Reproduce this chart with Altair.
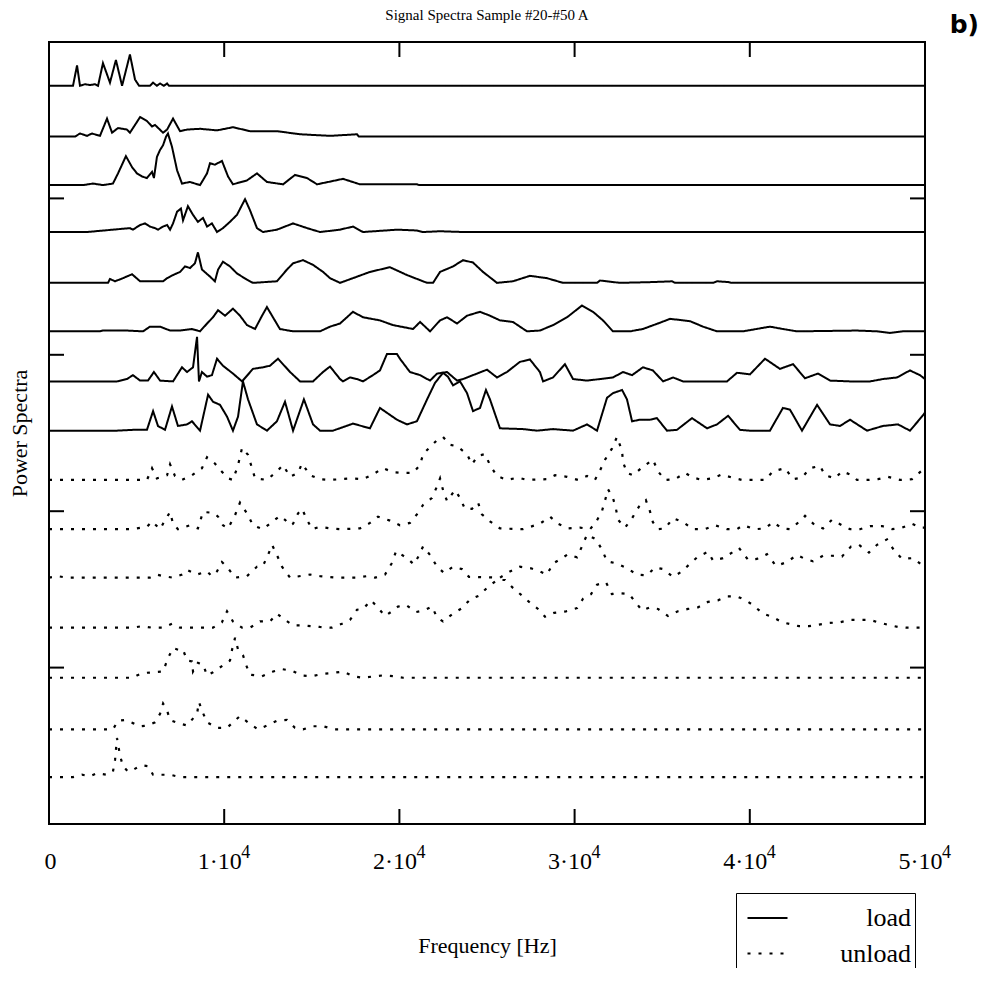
import altair as alt
import pandas as pd

TITLE = "Signal Spectra Sample #20-#50 A"
PANEL = "b)"
X_TITLE = "Frequency [Hz]"
Y_TITLE = "Power Spectra"
SERIES = ["load", "unload"]
X_TICKS = [0, 10000, 20000, 30000, 40000, 50000]
X_EXPONENT = "4"
Y_TICKS = [20, 40, 60, 80]

# (frequency in kHz, power in arbitrary units) for each recorded spectrum
load_1 = [(0, 0), (1.37, 0), (1.60, 2.6), (1.77, 0), (2.05, 0.2), (2.34, 0.1), (2.63, 0.2), (2.80, 0),
          (3.08, 2.9), (3.48, 0.4), (3.82, 3.3), (4.17, 0), (4.62, 4.0), (4.91, 0.8), (5.14, 0), (5.76, 0),
          (5.94, 0.4), (6.16, 0), (6.34, 0.3), (6.56, 0), (6.74, 0.3), (6.85, 0), (50, 0)]
load_2 = [(0, 0), (1.48, 0), (1.77, 0.4), (2.17, 0.1), (2.45, 0.4), (2.91, 0.1), (3.31, 2.3), (3.60, 0.5),
          (3.94, 1.1), (4.45, 0.9), (4.62, 0.5), (5.20, 2.5), (5.59, 2.0), (5.88, 1.3), (6.05, 1.5), (6.51, 0.5),
          (6.74, 0.9), (7.08, 2.3), (7.48, 0.7), (7.88, 0.9), (8.62, 1.0), (9.59, 0.8), (10.50, 1.2), (11.47, 0.7),
          (13.01, 0.7), (14.33, 0.3), (16.04, 0.1), (17.58, 0.3), (17.69, 0), (50, 0)]
load_3 = [(0, 0), (1.94, 0), (2.51, 0.2), (3.08, 0), (3.65, 0.2), (3.94, 1.5), (4.39, 3.7), (4.74, 2.3),
          (5.02, 1.5), (5.31, 1.1), (5.59, 0.9), (5.88, 1.7), (5.99, 0.9), (6.16, 3.6), (6.34, 4.5), (6.51, 5.1),
          (6.68, 6.2), (6.79, 6.6), (7.02, 4.9), (7.31, 1.9), (7.59, 0.2), (8.05, 0.4), (8.62, 0), (9.02, 1.5),
          (9.19, 2.8), (9.47, 2.6), (9.87, 3.1), (10.22, 1.1), (10.50, 0.1), (11.30, 0.6), (11.87, 1.5),
          (12.44, 0.4), (13.36, 0.1), (14.04, 1.3), (14.73, 0.9), (15.30, 0.1), (16.78, 0.8), (17.75, 0.1),
          (21.0, 0.1), (21.12, 0), (50, 0)]
load_4 = [(0, 0), (2.17, 0), (4.62, 0.5), (4.79, 0.3), (5.20, 0.9), (5.48, 1.1), (5.76, 0.7), (6.05, 0.5),
          (6.22, 0.3), (6.51, 0.7), (6.74, 0.9), (6.91, 0.3), (7.08, 1.1), (7.31, 2.6), (7.53, 3.0), (7.65, 1.5),
          (7.93, 3.3), (8.22, 2.2), (8.50, 1.3), (8.79, 1.8), (9.02, 0.7), (9.30, 1.1), (9.59, 0), (9.93, 0.5),
          (10.33, 1.3), (10.73, 2.2), (11.19, 4.2), (11.47, 2.8), (11.87, 0.5), (12.21, 0), (13.01, 0.3),
          (13.93, 1.1), (14.73, 0.5), (15.47, 0), (16.61, 0.3), (17.35, 0.7), (17.92, 0), (19.86, 0.3),
          (21.0, 0.2), (21.35, 0), (22.32, 0.1), (23.63, 0), (50, 0)]
load_5 = [(0, 0), (3.37, 0), (3.48, 0.5), (3.77, 0.2), (4.22, 0.6), (4.74, 1.1), (5.20, 0.2), (6.51, 0.2),
          (6.74, 0.6), (7.08, 1.0), (7.48, 1.4), (7.76, 2.1), (8.05, 1.9), (8.33, 2.5), (8.50, 3.9), (8.73, 1.7),
          (9.19, 0.8), (9.47, 0.2), (9.65, 1.7), (9.93, 2.7), (10.33, 2.1), (10.73, 1.2), (11.30, 0.4),
          (11.64, 0), (13.01, 0.2), (13.58, 1.7), (13.93, 2.5), (14.50, 2.9), (15.07, 2.3), (15.64, 1.4),
          (16.04, 0.6), (16.61, 0), (17.35, 0.6), (18.32, 1.4), (19.46, 2.0), (20.43, 1.0), (21.58, 0),
          (21.92, 0), (22.32, 1.4), (23.06, 2.1), (23.63, 2.9), (24.20, 2.6), (24.77, 1.4), (25.57, 0),
          (26.48, 0.2), (27.45, 0.9), (28.42, 0.6), (29.34, 0), (31.28, 0), (31.45, 0.3), (32.59, 0),
          (34.47, 0.1), (35.56, 0.2), (35.73, 0), (37.90, 0), (38.13, 0.2), (38.76, 0.1), (38.98, 0), (50, 0)]
load_6 = [(0, 0), (2.91, 0), (3.08, 0.1), (4.45, 0.1), (5.37, 0), (5.76, 0.6), (6.34, 0.6), (6.91, 0.1),
          (7.48, 0.1), (8.16, 0.3), (8.62, 0), (9.02, 1.0), (9.36, 1.8), (9.65, 2.7), (10.05, 2.0), (10.50, 2.9),
          (10.90, 2.0), (11.30, 0.8), (11.76, 0.3), (12.16, 2.0), (12.44, 3.1), (12.73, 2.0), (13.18, 0.3),
          (13.93, 0), (15.47, 0), (16.04, 0.6), (16.61, 1.0), (17.35, 2.5), (17.92, 1.8), (18.89, 1.4),
          (19.63, 0.8), (20.78, 0.3), (21.18, 1.2), (21.75, 0), (22.32, 1.4), (22.72, 1.8), (23.29, 1.0),
          (23.86, 2.0), (24.60, 2.5), (25.17, 2.0), (25.74, 1.4), (26.48, 1.2), (27.28, 0), (28.02, 0.1),
          (28.77, 0.8), (29.57, 1.8), (30.42, 3.3), (31.05, 2.5), (31.62, 1.4), (32.19, 0), (33.16, 0),
          (33.90, 0.3), (34.87, 1.1), (35.45, 1.6), (36.59, 1.3), (37.33, 0.6), (38.13, 0), (39.61, 0),
          (41.15, 0.6), (41.89, 0.3), (42.69, 0), (46.12, 0.1), (47.26, 0), (48.0, -0.2), (48.74, 0), (50, 0)]
load_7 = [(0, 0), (3.88, 0), (4.45, 0.3), (4.79, 0.8), (5.20, 0.1), (5.65, 0.1), (5.99, 1.2), (6.34, 0.1),
          (7.08, 0), (7.59, 1.8), (7.88, 1.2), (8.22, 1.8), (8.45, 5.7), (8.56, 0), (8.73, 1.2), (9.02, 0.6),
          (9.30, 0.8), (9.59, 2.9), (9.93, 2.0), (10.50, 1.0), (11.02, 0), (11.64, 1.6), (12.21, 1.8),
          (12.61, 2.0), (13.07, 2.9), (13.76, 1.2), (14.33, 0), (15.07, 0), (15.64, 1.2), (16.04, 1.9),
          (16.61, 0.3), (16.78, 0), (17.18, 0.5), (17.58, 0.3), (17.92, 0), (18.49, 0.8), (18.89, 1.4),
          (19.29, 3.5), (19.86, 3.5), (20.03, 2.9), (20.60, 1.2), (21.18, 0.8), (21.75, 0.1), (22.15, 1.0),
          (22.72, 1.2), (23.29, 0.1), (23.63, 0.3), (24.43, 1.0), (25.0, 1.5), (25.57, 0.5), (26.14, 1.2),
          (26.88, 2.5), (27.45, 2.8), (28.02, 1.2), (28.20, 0), (28.77, 0.5), (29.45, 2.2), (29.91, 0.3),
          (30.71, 0.1), (31.45, 0.3), (32.19, 0.5), (32.76, 1.2), (33.28, 0.8), (33.90, 1.8), (34.47, 1.4),
          (35.05, 0), (35.62, 0.5), (36.19, 0), (37.56, 0), (38.70, 0), (39.27, 1.1), (40.01, 0.9),
          (40.87, 2.9), (41.72, 1.6), (42.47, 2.2), (43.15, 0.4), (43.89, 1.0), (44.58, 0.1), (45.72, 0),
          (46.86, 0), (47.60, 0.3), (48.40, 0.5), (49.14, 1.4), (49.71, 0.8), (50, 0.3)]
load_8 = [(0, 0), (3.88, 0), (4.79, 0.1), (5.59, 0.1), (5.94, 2.5), (6.22, 0.6), (6.62, 0.1), (7.02, 3.1),
          (7.36, 0.6), (7.88, 0.8), (8.16, 1.2), (8.62, 0), (9.08, 4.6), (9.36, 3.7), (9.76, 3.3), (10.16, 1.8),
          (10.50, 0), (10.79, 1.8), (11.07, 6.3), (11.36, 4.0), (11.87, 0.8), (12.44, 0), (13.01, 1.2),
          (13.47, 3.7), (13.93, 0), (14.55, 4.0), (15.07, 0.8), (15.47, 0), (16.21, 0), (17.35, 0.9),
          (18.32, 0.3), (18.89, 2.9), (19.86, 1.4), (20.43, 0.8), (21.0, 1.2), (21.58, 4.0), (22.03, 6.1),
          (22.49, 7.4), (22.77, 6.9), (23.06, 5.8), (23.46, 6.3), (23.86, 4.8), (24.20, 2.5), (24.60, 2.9),
          (24.94, 5.2), (25.17, 4.0), (25.57, 1.4), (25.74, 0.3), (27.05, 0.2), (27.85, 0), (28.77, 0.2),
          (29.91, 0), (30.71, 0.8), (31.28, 0), (31.85, 4.2), (32.19, 4.8), (32.71, 5.2), (32.99, 4.0),
          (33.28, 1.2), (33.73, 1.4), (34.30, 1.4), (34.70, 1.6), (35.27, 0), (35.84, 0.1), (36.70, 1.6),
          (37.56, 0.3), (38.13, 0.8), (38.76, 1.9), (39.44, 0.1), (40.01, 0), (41.15, 0), (41.89, 2.9),
          (42.29, 2.7), (42.98, 0), (43.84, 3.3), (44.58, 0.8), (45.15, 0.6), (45.72, 1.4), (46.69, 0),
          (47.60, 0.6), (48.46, 0.8), (49.14, 0), (49.60, 1.2), (50, 2.3)]

unload_1 = [(0, 0), (5.59, 0), (5.88, 1.5), (6.16, 0.2), (6.74, 0.6), (6.91, 2.0), (7.19, 0.5), (7.59, 0),
            (8.16, 0.6), (8.73, 1.5), (9.02, 2.9), (9.47, 2.1), (9.76, 1.3), (10.22, 0.2), (10.50, 0),
            (10.79, 1.9), (11.02, 4.1), (11.36, 3.2), (11.76, 0.2), (12.44, 0), (13.01, 1.1), (13.36, 1.9),
            (13.76, 0.4), (14.21, 0.9), (14.44, 2.1), (14.90, 0.6), (15.47, 0.1), (16.04, 0), (17.29, 0.2),
            (17.92, 0.1), (18.49, 0.7), (19.06, 1.5), (19.63, 1.0), (20.21, 0.9), (20.78, 0.9), (21.18, 1.9),
            (21.35, 3.3), (22.15, 5.1), (22.49, 5.5), (22.89, 4.5), (23.29, 4.3), (23.86, 3.3), (24.14, 2.0),
            (24.49, 3.1), (24.89, 3.3), (25.17, 1.9), (25.57, 0.5), (26.14, 0), (26.77, 0.3), (27.28, 0),
            (28.42, 0.1), (28.88, 0.6), (29.57, 0.4), (30.19, 0), (30.71, 0.5), (31.16, 0), (31.45, 1.2),
            (31.74, 2.6), (32.13, 4.0), (32.42, 5.5), (32.71, 3.7), (32.76, 2.3), (32.99, 0.9), (33.33, 0.6),
            (33.85, 1.6), (34.47, 2.6), (34.76, 1.1), (35.16, 0), (35.73, 0.1), (36.30, 0.9), (36.76, 0.3),
            (37.27, 0), (37.84, 0.2), (38.41, 0.7), (38.98, 0.3), (39.55, 0), (40.87, 0), (41.32, 1.1),
            (42.01, 1.5), (42.47, 0.1), (42.98, 0.3), (43.44, 1.5), (44.01, 1.8), (44.29, 0.6), (44.86, 0.2),
            (45.26, 1.1), (45.72, 0.7), (46.12, 0), (46.75, 0), (47.32, 0.1), (47.89, 0.4), (48.57, 0),
            (49.26, 0.1), (49.77, 1.1), (50, 0.8)]
unload_2 = [(0, 0), (4.79, 0), (5.02, 0.1), (5.59, 0.3), (5.88, 1.0), (6.34, 0), (6.51, 0.7), (6.91, 2.2),
            (7.08, 0.7), (7.36, 0), (8.05, 0.5), (8.50, 0.1), (8.79, 2.2), (9.36, 2.1), (9.65, 1.6), (9.93, 0.5),
            (10.22, 0.1), (10.62, 1.8), (10.90, 3.4), (11.36, 1.8), (11.64, 0.5), (12.21, 0), (12.61, 0.7),
            (13.18, 1.7), (13.47, 1.2), (13.76, 0.5), (13.93, 0.7), (14.21, 2.0), (14.44, 2.6), (14.73, 1.2),
            (15.01, 0), (15.47, 0.3), (16.04, 0.1), (16.61, 0), (17.75, 0.1), (18.32, 0.8), (18.78, 1.6),
            (19.46, 1.1), (20.03, 0.5), (20.60, 0.8), (21.0, 1.9), (21.35, 3.1), (21.86, 4.0), (22.15, 5.5),
            (22.32, 6.5), (22.49, 5.0), (22.72, 3.6), (23.17, 5.0), (23.46, 4.0), (23.74, 2.6), (24.14, 2.6),
            (24.49, 3.4), (24.71, 1.9), (25.17, 1.0), (25.74, 0.1), (27.05, 0), (28.02, 0.7), (28.60, 1.6),
            (29.05, 0.7), (29.62, 0.1), (30.31, 0.2), (30.88, 0), (31.22, 0.9), (31.56, 2.3), (31.74, 3.7),
            (31.91, 5.1), (32.19, 4.0), (32.36, 2.6), (32.48, 1.2), (32.88, 0.2), (33.28, 1.4), (33.68, 2.9),
            (34.07, 3.7), (34.30, 2.3), (34.47, 0.9), (34.76, 0), (35.16, 0.1), (35.62, 1.4), (36.19, 0.9),
            (36.76, 0), (37.44, 0), (38.01, 0.5), (38.70, 0), (39.27, 0), (39.61, 0.5), (40.30, 0),
            (40.87, 0.1), (41.32, 0.9), (41.84, 0.1), (42.29, 0), (42.69, 0.7), (43.15, 1.7), (43.72, 0.5),
            (44.18, 0.1), (44.69, 1.2), (45.26, 0.5), (45.72, 0), (46.29, 0), (46.86, 0.4), (47.55, 0.4),
            (48.12, 0), (48.69, 0.2), (49.26, 0.7), (49.77, 0.2), (50, 0.2)]
unload_3 = [(0, 0), (0.46, 0.2), (1.03, 0), (5.20, 0), (5.76, 0), (6.16, 0.4), (6.51, 0.2), (7.08, 0),
            (7.59, 0.4), (7.88, 1.0), (8.45, 0.4), (9.02, 0.8), (9.30, 0.2), (9.59, 0.8), (9.87, 2.0),
            (10.22, 1.2), (10.62, 0), (11.30, 0.2), (11.87, 1.4), (12.21, 1.5), (12.50, 2.9), (12.73, 4.2),
            (13.01, 2.9), (13.30, 1.4), (13.76, 0), (14.90, 0.4), (15.47, 0.2), (16.44, 0), (17.58, 0),
            (18.15, 0.2), (18.61, 0), (19.18, 0.4), (19.58, 1.9), (19.81, 3.4), (20.43, 2.5), (20.83, 1.7),
            (21.06, 2.6), (21.35, 4.0), (21.75, 2.9), (22.15, 1.4), (22.55, 0.6), (23.06, 1.4), (23.57, 1.1),
            (23.97, 0.1), (25.74, 0), (26.31, 0.8), (26.88, 1.4), (27.51, 1.2), (28.02, 0.8), (28.42, 0.4),
            (28.77, 1.8), (29.28, 2.5), (29.62, 3.0), (30.14, 2.6), (30.42, 4.0), (30.71, 5.5), (31.22, 4.9),
            (31.56, 3.6), (31.85, 2.1), (32.42, 1.8), (32.99, 1.2), (33.56, 0.4), (34.13, 0.3), (34.59, 1.3),
            (35.05, 1.1), (35.62, 0.1), (36.13, 0.8), (36.59, 1.8), (37.04, 2.7), (37.61, 3.3), (37.90, 2.2),
            (38.47, 2.5), (38.98, 3.2), (39.38, 3.8), (39.90, 2.3), (40.41, 2.4), (40.98, 3.0), (41.50, 1.5),
            (42.12, 2.0), (42.69, 2.9), (43.15, 2.4), (43.61, 2.1), (44.18, 2.8), (44.69, 2.8), (45.26, 2.7),
            (45.78, 4.0), (46.23, 4.2), (46.80, 3.2), (47.26, 4.2), (47.83, 4.9), (48.23, 3.5), (48.69, 2.4),
            (49.32, 2.5), (49.89, 1.5), (50, 1.5)]
unload_4 = [(0, 0), (4.79, 0), (5.31, 0.2), (5.88, 0), (6.51, 0), (7.02, 0.5), (7.48, 0), (9.36, 0),
            (9.87, 0.7), (10.16, 2.1), (10.50, 0.8), (11.02, 0), (11.47, 0), (12.04, 0.8), (12.61, 0.8),
            (13.01, 1.8), (13.47, 1.0), (13.93, 0.3), (14.50, 0.3), (15.47, 0.1), (16.15, 0), (16.72, 0.5),
            (17.18, 1.0), (17.58, 2.3), (17.92, 2.4), (18.38, 3.5), (18.72, 2.7), (19.18, 1.5), (19.58, 2.1),
            (19.92, 2.7), (20.38, 2.9), (20.95, 2.0), (21.40, 2.2), (21.86, 2.7), (22.15, 1.3), (22.49, 0.8),
            (23.06, 1.8), (23.57, 2.5), (24.03, 3.6), (24.54, 4.1), (25.0, 5.1), (25.57, 6.1), (26.03, 6.1),
            (26.48, 5.1), (27.0, 4.1), (27.40, 3.3), (27.91, 2.4), (28.31, 1.4), (28.82, 1.9), (29.51, 2.1),
            (30.14, 2.5), (30.48, 3.7), (30.94, 4.3), (31.28, 5.5), (31.79, 5.8), (32.13, 4.3), (32.59, 4.4),
            (33.11, 4.3), (33.50, 3.2), (33.85, 2.2), (34.30, 2.6), (34.76, 2.4), (35.33, 1.5), (35.90, 2.1),
            (36.47, 2.4), (37.04, 2.6), (37.61, 3.3), (38.18, 3.5), (38.70, 4.0), (39.27, 4.0), (39.78, 3.5),
            (40.18, 2.9), (40.75, 1.8), (41.27, 1.4), (41.84, 0.7), (42.41, 0.4), (42.81, 0.2), (43.38, 0.2),
            (43.95, 0.4), (44.52, 0.6), (45.15, 0.7), (45.72, 1.0), (46.86, 1.0), (47.32, 0.7), (47.83, 0.4),
            (48.46, 0.1), (48.97, 0), (49.66, 0), (50, 0)]
unload_5 = [(0, 0), (4.79, 0), (5.02, 0.3), (5.37, 0.6), (5.94, 0.7), (6.51, 0.8), (6.79, 2.5), (7.08, 3.8),
            (7.48, 3.5), (7.65, 3.6), (7.88, 2.2), (8.16, 2.1), (8.22, 0.8), (8.50, 1.9), (8.79, 1.7),
            (9.02, 0.3), (9.36, 0.7), (9.87, 1.5), (10.33, 2.2), (10.45, 3.6), (10.62, 5.1), (10.79, 3.6),
            (11.07, 2.9), (11.24, 1.7), (11.47, 0.4), (12.16, 0.2), (12.79, 0.8), (13.30, 1.1), (13.87, 0.9),
            (14.44, 0.3), (15.01, 0.2), (15.64, 0.5), (16.15, 0.6), (16.78, 0.8), (17.35, 0.2), (17.92, 0),
            (18.61, 0.2), (19.06, 0.3), (19.63, 0.2), (20.21, 0), (50, 0)]
unload_6 = [(0, 0), (3.65, 0), (3.94, 1.1), (4.34, 1.2), (4.79, 0.8), (5.20, 0.4), (5.65, 0.5), (6.05, 0.9),
            (6.34, 2.0), (6.51, 3.3), (6.74, 2.4), (6.91, 1.2), (7.36, 0.8), (7.88, 0.5), (8.45, 2.0),
            (8.56, 3.5), (8.73, 2.4), (9.02, 0.9), (9.59, 0.2), (10.16, 0.2), (10.50, 0.9), (10.90, 1.7),
            (11.47, 0.7), (11.93, 0), (12.44, 0.5), (13.01, 1.1), (13.58, 1.2), (14.04, 0.2), (14.50, 0),
            (15.07, 0.4), (15.64, 0.4), (16.32, 0), (50, 0)]
unload_7 = [(0, 0), (1.37, 0), (1.88, 0.3), (2.34, 0.1), (2.74, 0.5), (3.31, 0.3), (3.65, 0.7), (3.77, 2.2),
            (3.88, 5.0), (4.05, 2.8), (4.22, 1.4), (4.51, 0.7), (4.79, 0.9), (5.08, 1.3), (5.31, 1.5),
            (5.65, 1.4), (5.94, 0.3), (6.51, 0.3), (6.91, 0.3), (7.48, 0), (50, 0)]

load_traces = [load_1, load_2, load_3, load_4, load_5, load_6, load_7, load_8]
unload_traces = [unload_1, unload_2, unload_3, unload_4, unload_5, unload_6, unload_7]
# vertical waterfall offsets of each spectrum
load_offsets = [94.4, 87.9, 81.7, 75.7, 69.2, 63.0, 56.6, 50.3]
unload_offsets = [44.0, 37.7, 31.5, 25.1, 18.7, 12.1, 6.0]

rows = []
for kind, traces, offs in (("load", load_traces, load_offsets), ("unload", unload_traces, unload_offsets)):
    for k, (tr, off) in enumerate(zip(traces, offs)):
        for i, (f, p) in enumerate(tr):
            rows.append({"trace": f"{kind}_{k + 1}", "kind": kind, "i": i,
                         "freq": f * 1000.0, "level": off + p})
df = pd.DataFrame(rows)
xt = pd.DataFrame({"freq": X_TICKS[1:-1]})
yt = pd.DataFrame({"level": Y_TICKS})
exp_df = pd.DataFrame({"freq": X_TICKS[1:], "t": [X_EXPONENT] * (len(X_TICKS) - 1)})

W, H = 876, 782
SERIF = "Liberation Serif"

xs = alt.Scale(domain=[0, 50000], nice=False, zero=False)
ys = alt.Scale(domain=[0, 100], nice=False, zero=False)

label_expr = "datum.value == 0 ? '0' : format(datum.value / 10000, 'd') + '\u00b710'"
x_axis = alt.Axis(values=X_TICKS, labelExpr=label_expr, orient="bottom", ticks=False,
                  domain=False, grid=False, labelFlush=False, labelOverlap=False,
                  labelFont=SERIF, labelFontSize=24, labelColor="black",
                  labelBaseline="alphabetic", labelPadding=44,
                  labelAlign={"condition": {"test": "datum.value == 0", "value": "center"}, "value": "right"},
                  labelOffset={"condition": {"test": "datum.value == 0", "value": 1}, "value": 17},
                  titleFont=SERIF, titleFontSize=22, titleFontWeight="normal",
                  titleColor="black", titlePadding=62)
y_axis = alt.Axis(labels=False, ticks=False, domain=False, grid=False,
                  titleFont=SERIF, titleFontSize=22, titleFontWeight="normal",
                  titleColor="black", titlePadding=18)


def xenc():
    return alt.X("freq:Q", scale=xs, title=X_TITLE, axis=x_axis)


def yenc():
    return alt.Y("level:Q", scale=ys, title=Y_TITLE, axis=y_axis)


lines = alt.Chart(df).mark_line(color="black", interpolate="linear").encode(
    x=xenc(),
    y=yenc(),
    detail="trace:N",
    order="i:Q",
    strokeDash=alt.StrokeDash(
        "kind:N",
        scale=alt.Scale(domain=SERIES, range=[[1, 0], [3, 8]]),
        legend=alt.Legend(title=None, orient="none", legendX=687, legendY=851,
                          symbolType="stroke", symbolSize=1600, symbolStrokeWidth=1.8,
                          symbolStrokeColor="black", symbolOffset=6,
                          labelFont=SERIF, labelFontSize=26, labelColor="black",
                          labelAlign="right", labelOffset=122,
                          strokeColor="black", padding=4, rowPadding=1),
    ),
    strokeWidth=alt.StrokeWidth("kind:N", scale=alt.Scale(domain=SERIES, range=[2.0, 2.2]), legend=None),
)

bottom_ticks = alt.Chart(xt).mark_rule(color="black", strokeWidth=2).encode(
    x=xenc(), y=alt.value(H), y2=alt.value(H - 15))
top_ticks = alt.Chart(xt).mark_rule(color="black", strokeWidth=2).encode(
    x=xenc(), y=alt.value(0), y2=alt.value(15))
left_ticks = alt.Chart(yt).mark_rule(color="black", strokeWidth=2).encode(
    y=yenc(), x=alt.value(0), x2=alt.value(15))
right_ticks = alt.Chart(yt).mark_rule(color="black", strokeWidth=2).encode(
    y=yenc(), x=alt.value(W - 15), x2=alt.value(W))

exponents = alt.Chart(exp_df).mark_text(
    font=SERIF, fontSize=18, align="left", baseline="alphabetic", color="black", dx=17).encode(
    x=xenc(), y=alt.value(H + 34), text="t:N")

title_text = alt.Chart(pd.DataFrame({"t": [TITLE]})).mark_text(
    font=SERIF, fontSize=15, align="center", baseline="alphabetic", color="black").encode(
    text="t:N", x=alt.value(W / 2), y=alt.value(-22))

panel_tag = alt.Chart(pd.DataFrame({"t": [PANEL]})).mark_text(
    font="DejaVu Sans", fontWeight="bold", fontSize=25, align="right", baseline="alphabetic",
    color="black").encode(text="t:N", x=alt.value(W + 54), y=alt.value(-9))

chart = alt.layer(lines, bottom_ticks, top_ticks, left_ticks, right_ticks, exponents,
                  title_text, panel_tag).properties(
    width=W, height=H,
    padding={"left": 41, "top": 34, "right": 61, "bottom": 144},
    autosize=alt.AutoSizeParams(type="none"),
).configure_view(stroke="black", strokeWidth=2)

chart.save("out.html", embed_options={"renderer": "svg", "actions": False})
